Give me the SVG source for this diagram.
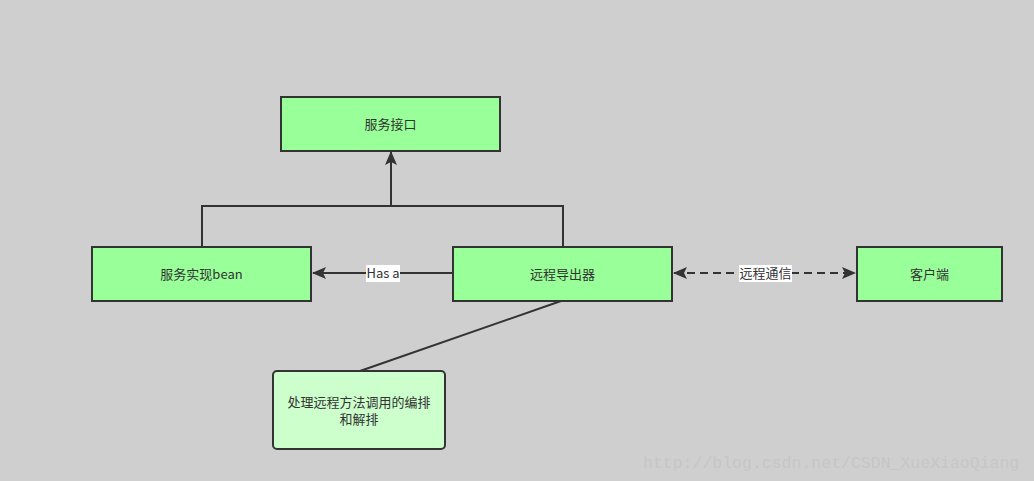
<svg xmlns="http://www.w3.org/2000/svg" width="1034" height="481" viewBox="0 0 1034 481">
<defs>
<style>
.n{fill:#99ff99;stroke:#333;stroke-width:2}
.c{fill:none;stroke:#333;stroke-width:2}
.t{font-family:"Noto Sans CJK SC","Liberation Sans",sans-serif;font-size:13px;fill:#333;text-anchor:middle}
.lb{fill:#fff}
</style>
<marker id="a" viewBox="0 0 14 12" refX="13" refY="6" markerWidth="14" markerHeight="12" markerUnits="userSpaceOnUse" orient="auto-start-reverse">
<path d="M0,0 L14,6 L0,12 L3,6 Z" fill="#333"/>
</marker>
</defs>
<rect width="1034" height="481" fill="#cfcfcf"/>
<g id="connectors">
<path class="c" d="M202,247 V206 H563 V247"/>
<path class="c" d="M391,206 V152" marker-end="url(#a)"/>
<path class="c" d="M453,273 H313" marker-end="url(#a)"/>
<rect class="lb" x="366" y="265" width="34" height="17"/>
<text class="t" x="383" y="278">Has a</text>
<path class="c" d="M674,273 H855" stroke-dasharray="8,5" marker-start="url(#a)" marker-end="url(#a)"/>
<rect class="lb" x="739" y="265" width="53" height="17"/>
<text class="t" x="765.5" y="278">远程通信</text>
<path class="c" d="M561,301 L360,371"/>
</g>
<g id="n1"><rect class="n" x="281" y="97" width="219" height="54"/><text class="t" x="390.5" y="129">服务接口</text></g>
<g id="n2"><rect class="n" x="92" y="247" width="219" height="54"/><text class="t" x="201.5" y="279">服务实现bean</text></g>
<g id="n3"><rect class="n" x="453" y="247" width="219" height="54"/><text class="t" x="562.5" y="279">远程导出器</text></g>
<g id="n4"><rect class="n" x="857" y="247" width="145" height="54"/><text class="t" x="929.5" y="279">客户端</text></g>
<g id="n5"><rect x="273" y="371" width="172" height="78" rx="4" fill="#ccffcc" stroke="#333" stroke-width="2"/><text class="t" x="359" y="407">处理远程方法调用的编排</text><text class="t" x="359" y="424">和解排</text></g>
<text x="643" y="468" font-family="Liberation Mono, monospace" font-size="16.5" fill="#c6c6c6">http://blog.csdn.net/CSDN_XueXiaoQiang</text>
</svg>
